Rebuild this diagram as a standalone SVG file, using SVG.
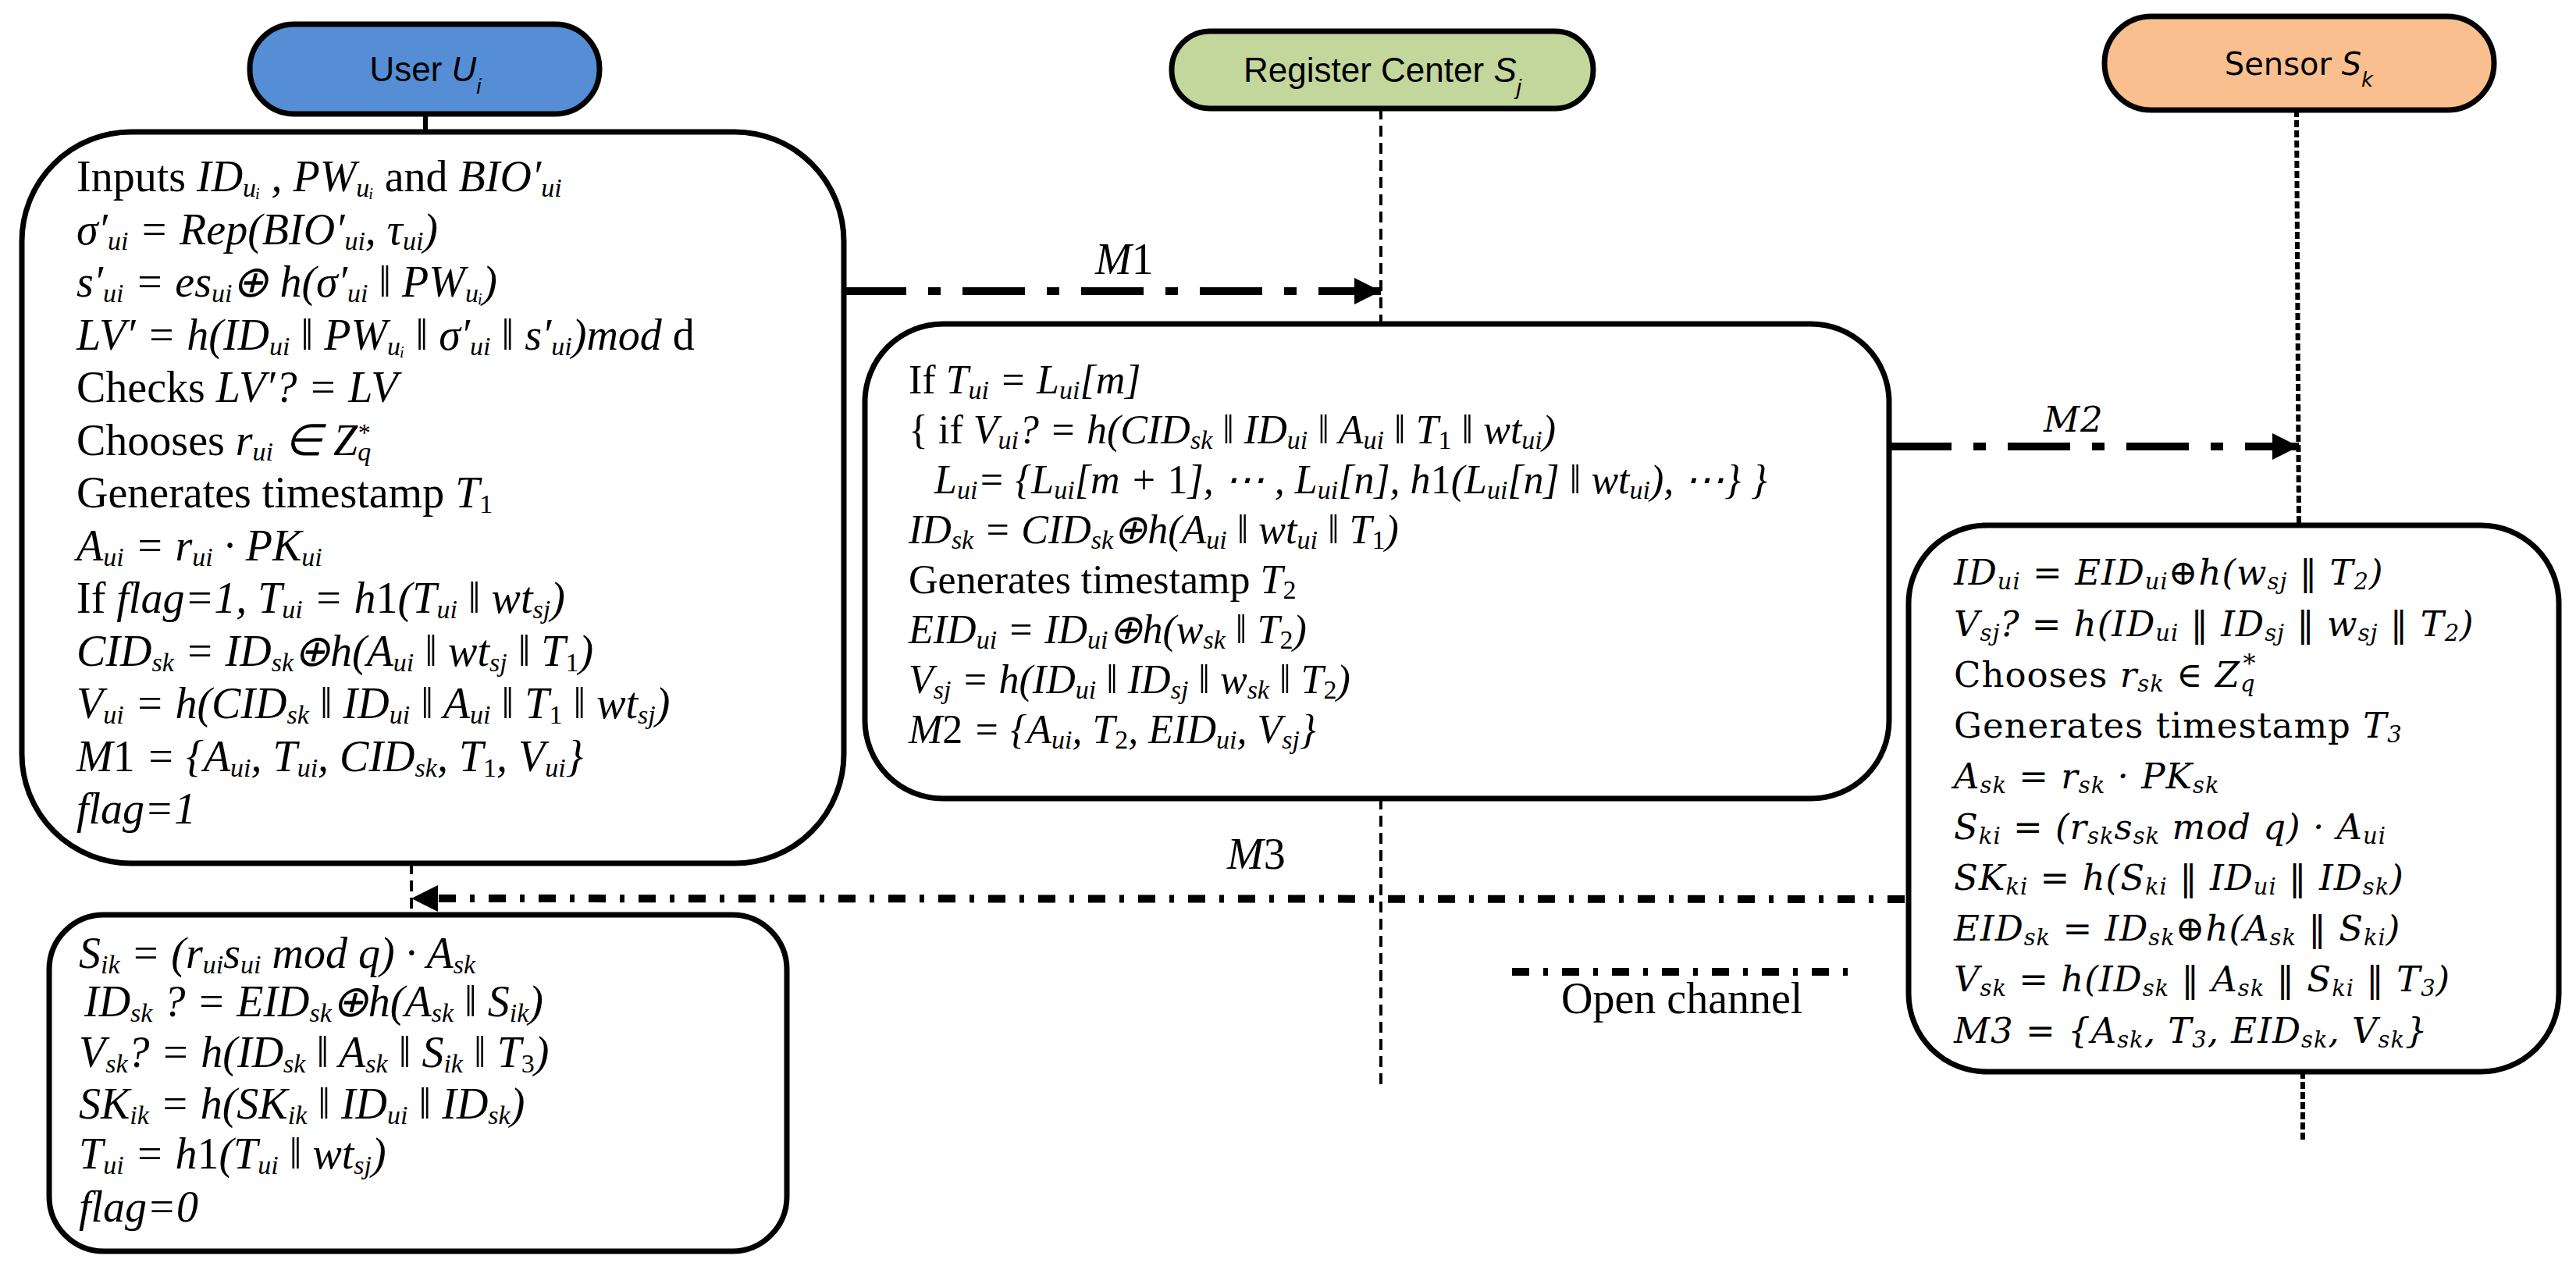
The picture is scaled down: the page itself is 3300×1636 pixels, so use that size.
<svg xmlns="http://www.w3.org/2000/svg" width="3300" height="1636" viewBox="0 0 3300 1636">
<style>
.pill{stroke:#000;stroke-width:7}
.box{fill:#fff;stroke:#000;stroke-width:7}
.lbl{font-family:"Liberation Sans",Arial,sans-serif;font-size:44px;fill:#000}
.t{font-family:"Liberation Serif","Times New Roman",serif;font-size:56px;font-style:italic;fill:#000}
.rc{font-size:52px}
.tw{font-family:"DejaVu Serif",serif;font-size:45px;font-style:italic;fill:#000;letter-spacing:1px}
.r{font-style:normal}
.s{font-size:34px;baseline-shift:-7px}
.tw .s{font-size:29px;baseline-shift:-6px}
.sp{font-size:32px;baseline-shift:super}
.msg{stroke:#000;stroke-width:10;fill:none;stroke-dasharray:80 28 16 28}
.msg3{stroke:#000;stroke-width:10;fill:none;stroke-dasharray:22 18 6 18}
.life{stroke:#000;stroke-width:4;fill:none;stroke-dasharray:14 8}
.dot{stroke:#000;stroke-width:6;fill:none;stroke-dasharray:9 4}
</style>
<defs>
<marker id="arr" viewBox="0 0 10 10" refX="10" refY="5" markerWidth="34" markerHeight="34" markerUnits="userSpaceOnUse" orient="auto"><path d="M0,0 L10,5 L0,10 z" fill="#000"/></marker>
</defs>

<g id="connectors">
<line x1="545" y1="146" x2="545" y2="169" stroke="#000" stroke-width="6"/>
<line class="life" x1="1769" y1="139" x2="1769" y2="415"/>
<line class="life" x1="1769" y1="1023" x2="1769" y2="1394"/>
<line class="dot" x1="2942" y1="141" x2="2945" y2="673"/>
<line class="dot" x1="2950" y1="1373" x2="2950" y2="1461"/>
<line class="life" x1="527" y1="1106" x2="527" y2="1172"/>
<line class="msg" x1="1081" y1="373" x2="1769" y2="373" marker-end="url(#arr)"/>
<line class="msg" x1="2420" y1="572" x2="2945" y2="572" marker-end="url(#arr)"/>
<line class="msg3" x1="2440" y1="1152" x2="527" y2="1151" marker-end="url(#arr)"/>
<text class="t" x="1403" y="351">M<tspan class="r">1</tspan></text>
<text class="tw" x="2618" y="553">M2</text>
<text class="t" x="1572" y="1113">M<tspan class="r">3</tspan></text>
<line class="msg3" x1="1937" y1="1245" x2="2380" y2="1245"/>
<text class="t r" x="2000" y="1298">Open channel</text>
</g>

<g id="user">
<rect class="pill" x="320" y="31" width="448" height="115" rx="57" fill="#558ED5"/>
<text class="lbl" x="545" y="104" text-anchor="middle">User <tspan font-style="italic">U</tspan><tspan font-size="28" font-style="italic" baseline-shift="sub">i</tspan></text>
</g>
<g id="user-box">
<rect class="box" x="28" y="169" width="1053" height="937" rx="140"/>
<text class="t" x="98" y="245"><tspan class="r">Inputs </tspan>ID<tspan class="s">uᵢ</tspan> , PW<tspan class="s">uᵢ</tspan><tspan class="r"> and </tspan> BIO′<tspan class="s">ui</tspan></text>
<text class="t" x="98" y="313">σ′<tspan class="s">ui</tspan> = Rep(BIO′<tspan class="s">ui</tspan>, τ<tspan class="s">ui</tspan>)</text>
<text class="t" x="98" y="380">s′<tspan class="s">ui</tspan> =  es<tspan class="s">ui</tspan>⊕ h(σ′<tspan class="s">ui</tspan> ‖ PW<tspan class="s">uᵢ</tspan>)</text>
<text class="t" x="98" y="448">LV′ = h(ID<tspan class="s">ui</tspan> ‖ PW<tspan class="s">uᵢ</tspan> ‖ σ′<tspan class="s">ui</tspan> ‖ s′<tspan class="s">ui</tspan>)mod<tspan class="r"> d</tspan></text>
<text class="t" x="98" y="515"><tspan class="r">Checks </tspan> LV′? = LV</text>
<text class="t" x="98" y="583"><tspan class="r">Chooses </tspan>r<tspan class="s">ui</tspan> ∈ Z<tspan class="s">q</tspan><tspan class="sp" dx="-18">*</tspan></text>
<text class="t" x="98" y="650"><tspan class="r">Generates timestamp </tspan>T<tspan class="s r">1</tspan></text>
<text class="t" x="98" y="718">A<tspan class="s">ui</tspan> = r<tspan class="s">ui</tspan> · PK<tspan class="s">ui</tspan></text>
<text class="t" x="98" y="785"><tspan class="r">If  </tspan>flag=1,   T<tspan class="s">ui</tspan> = h<tspan class="r">1</tspan>(T<tspan class="s">ui</tspan> ‖ wt<tspan class="s">sj</tspan>)</text>
<text class="t" x="98" y="853">CID<tspan class="s">sk</tspan> = ID<tspan class="s">sk</tspan>⊕h(A<tspan class="s">ui</tspan> ‖ wt<tspan class="s">sj</tspan> ‖ T<tspan class="s r">1</tspan>)</text>
<text class="t" x="98" y="920">V<tspan class="s">ui</tspan> = h(CID<tspan class="s">sk</tspan> ‖ ID<tspan class="s">ui</tspan> ‖ A<tspan class="s">ui</tspan> ‖ T<tspan class="s r">1</tspan> ‖ wt<tspan class="s">sj</tspan>)</text>
<text class="t" x="98" y="988">M<tspan class="r">1</tspan> = {A<tspan class="s">ui</tspan>, T<tspan class="s">ui</tspan>, CID<tspan class="s">sk</tspan>, T<tspan class="s r">1</tspan>, V<tspan class="s">ui</tspan>}</text>
<text class="t" x="98" y="1055">flag=1</text>
</g>

<g id="register">
<rect class="pill" x="1501" y="40" width="540" height="99" rx="49" fill="#C3D69B"/>
<text class="lbl" x="1771" y="105" text-anchor="middle">Register Center <tspan font-style="italic">S</tspan><tspan font-size="28" font-style="italic" baseline-shift="sub">j</tspan></text>
</g>
<g id="register-box">
<rect class="box" x="1108" y="415" width="1312" height="608" rx="100"/>
<text class="t rc" x="1164" y="504"><tspan class="r">If  </tspan>T<tspan class="s">ui</tspan> = L<tspan class="s">ui</tspan>[m]</text>
<text class="t rc" x="1164" y="568"><tspan class="r">  {  if </tspan>V<tspan class="s">ui</tspan>? = h(CID<tspan class="s">sk</tspan> ‖ ID<tspan class="s">ui</tspan> ‖ A<tspan class="s">ui</tspan> ‖ T<tspan class="s r">1</tspan> ‖ wt<tspan class="s">ui</tspan>)</text>
<text class="t rc" x="1197" y="632">L<tspan class="s">ui</tspan>= {L<tspan class="s">ui</tspan>[m + <tspan class="r">1</tspan>], ⋯ , L<tspan class="s">ui</tspan>[n], h<tspan class="r">1</tspan>(L<tspan class="s">ui</tspan>[n] ‖ wt<tspan class="s">ui</tspan>), ⋯}   }</text>
<text class="t rc" x="1164" y="696">ID<tspan class="s">sk</tspan> = CID<tspan class="s">sk</tspan>⊕h(A<tspan class="s">ui</tspan> ‖ wt<tspan class="s">ui</tspan> ‖ T<tspan class="s r">1</tspan>)</text>
<text class="t rc" x="1164" y="760"><tspan class="r">Generates timestamp </tspan>T<tspan class="s r">2</tspan></text>
<text class="t rc" x="1164" y="824">EID<tspan class="s">ui</tspan> = ID<tspan class="s">ui</tspan>⊕h(w<tspan class="s">sk</tspan> ‖ T<tspan class="s r">2</tspan>)</text>
<text class="t rc" x="1164" y="888">V<tspan class="s">sj</tspan> = h(ID<tspan class="s">ui</tspan> ‖ ID<tspan class="s">sj</tspan> ‖ w<tspan class="s">sk</tspan> ‖ T<tspan class="s r">2</tspan>)</text>
<text class="t rc" x="1164" y="952">M<tspan class="r">2</tspan> = {A<tspan class="s">ui</tspan>, T<tspan class="s r">2</tspan>, EID<tspan class="s">ui</tspan>, V<tspan class="s">sj</tspan>}</text>
</g>

<g id="sensor">
<rect class="pill" x="2696" y="21" width="499" height="120" rx="60" fill="#F9BF8F"/>
<text x="2945" y="96" text-anchor="middle" font-family="DejaVu Sans,sans-serif" font-size="40">Sensor <tspan font-style="italic">S</tspan><tspan font-size="26" font-style="italic" baseline-shift="sub">k</tspan></text>
</g>
<g id="sensor-box">
<rect class="box" x="2445" y="673" width="833" height="700" rx="100"/>
<text class="tw" x="2503" y="749">ID<tspan class="s">ui</tspan> = EID<tspan class="s">ui</tspan>⊕h(w<tspan class="s">sj</tspan> ‖ T<tspan class="s">2</tspan>)</text>
<text class="tw" x="2503" y="815">V<tspan class="s">sj</tspan>? = h(ID<tspan class="s">ui</tspan> ‖ ID<tspan class="s">sj</tspan> ‖ w<tspan class="s">sj</tspan> ‖ T<tspan class="s">2</tspan>)</text>
<text class="tw" x="2503" y="880"><tspan class="r">Chooses </tspan>r<tspan class="s">sk</tspan> ∈ Z<tspan class="s">q</tspan><tspan class="sp" font-size="26" dx="-16">*</tspan></text>
<text class="tw" x="2503" y="945"><tspan class="r">Generates timestamp </tspan>T<tspan class="s">3</tspan></text>
<text class="tw" x="2503" y="1010">A<tspan class="s">sk</tspan> = r<tspan class="s">sk</tspan> · PK<tspan class="s">sk</tspan></text>
<text class="tw" x="2503" y="1075">S<tspan class="s">ki</tspan> = (r<tspan class="s">sk</tspan>s<tspan class="s">sk</tspan> mod q) · A<tspan class="s">ui</tspan></text>
<text class="tw" x="2503" y="1140">SK<tspan class="s">ki</tspan> = h(S<tspan class="s">ki</tspan> ‖ ID<tspan class="s">ui</tspan> ‖ ID<tspan class="s">sk</tspan>)</text>
<text class="tw" x="2503" y="1205">EID<tspan class="s">sk</tspan> = ID<tspan class="s">sk</tspan>⊕h(A<tspan class="s">sk</tspan> ‖ S<tspan class="s">ki</tspan>)</text>
<text class="tw" x="2503" y="1270">V<tspan class="s">sk</tspan> = h(ID<tspan class="s">sk</tspan> ‖ A<tspan class="s">sk</tspan> ‖ S<tspan class="s">ki</tspan> ‖ T<tspan class="s">3</tspan>)</text>
<text class="tw" x="2503" y="1336">M3 = {A<tspan class="s">sk</tspan>, T<tspan class="s">3</tspan>, EID<tspan class="s">sk</tspan>, V<tspan class="s">sk</tspan>}</text>
</g>

<g id="user-box-2">
<rect class="box" x="63" y="1172" width="945" height="431" rx="70"/>
<text class="t" x="101" y="1240">S<tspan class="s">ik</tspan> = (r<tspan class="s">ui</tspan>s<tspan class="s">ui</tspan> mod q) · A<tspan class="s">sk</tspan></text>
<text class="t" x="108" y="1302">ID<tspan class="s">sk</tspan> ? = EID<tspan class="s">sk</tspan>⊕h(A<tspan class="s">sk</tspan> ‖ S<tspan class="s">ik</tspan>)</text>
<text class="t" x="101" y="1367">V<tspan class="s">sk</tspan>? = h(ID<tspan class="s">sk</tspan> ‖ A<tspan class="s">sk</tspan> ‖ S<tspan class="s">ik</tspan> ‖ T<tspan class="s r">3</tspan>)</text>
<text class="t" x="101" y="1433">SK<tspan class="s">ik</tspan> = h(SK<tspan class="s">ik</tspan> ‖ ID<tspan class="s">ui</tspan> ‖ ID<tspan class="s">sk</tspan>)</text>
<text class="t" x="101" y="1497">T<tspan class="s">ui</tspan> = h<tspan class="r">1</tspan>(T<tspan class="s">ui</tspan> ‖ wt<tspan class="s">sj</tspan>)</text>
<text class="t" x="101" y="1565">flag=0</text>
</g>
</svg>
